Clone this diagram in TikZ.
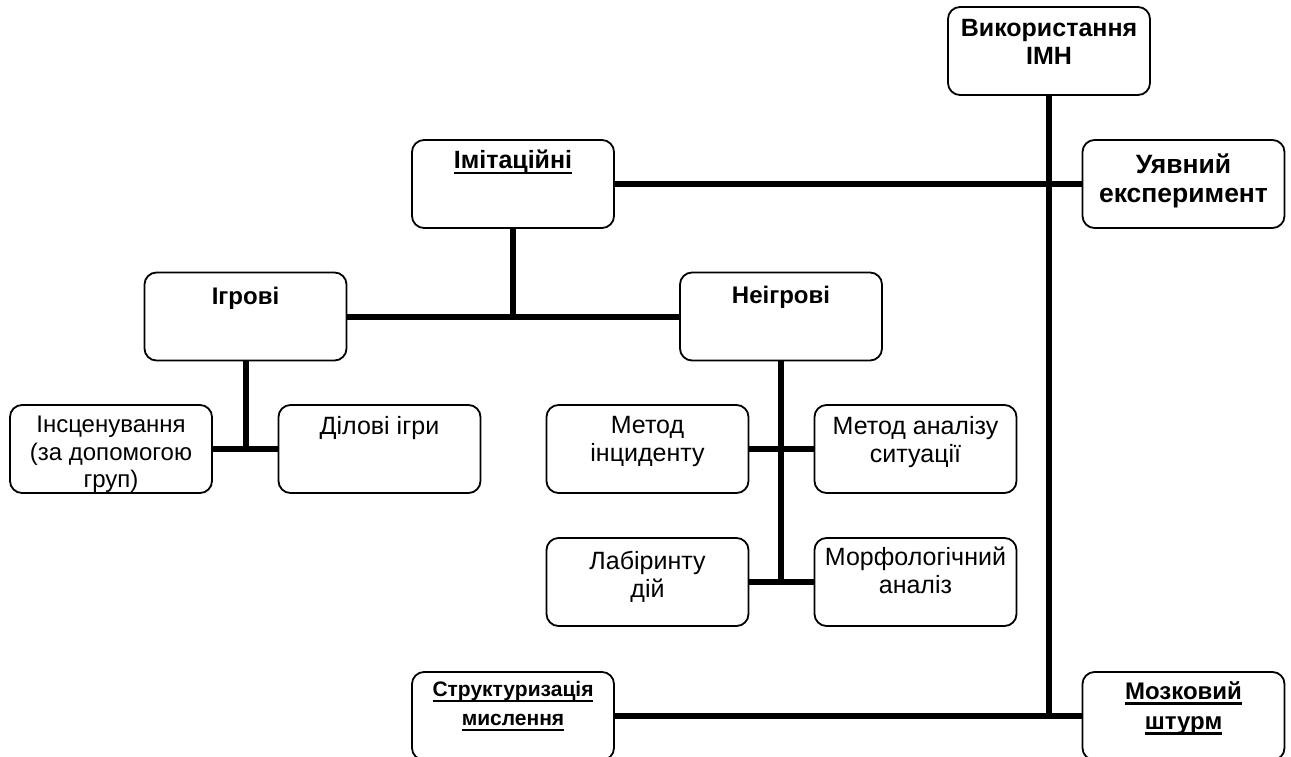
\documentclass[tikz,border=0pt]{standalone}
\usepackage{fontspec}
\setmainfont{Liberation Sans}
\usetikzlibrary{backgrounds}
\newcommand{\uln}[1]{\leavevmode\setbox0=\hbox{#1}\rlap{\vrule width\wd0 height -3.3pt depth 5.4pt}\box0}
\begin{document}
\begin{tikzpicture}[x=1pt,y=-1pt,
  box/.style={draw,line width=1.8pt,rounded corners=12pt,minimum width=202pt,minimum height=88pt,inner sep=0pt,fill=white},
  bt/.style={anchor=north,inner sep=0pt,align=center,font=\fontsize{24}{28}\selectfont\bfseries},
  rt/.style={anchor=north,inner sep=0pt,align=center,font=\fontsize{25}{28}\selectfont},
  conn/.style={line width=6pt,line cap=rect}]
\useasboundingbox (0,0) rectangle (1291,757);
\clip (0,0) rectangle (1291,757);
% boxes
\node[box] (vik) at (1049,51) {};
\node[box] (uyav) at (1183.5,184) {};
\node[box] (imit) at (513,184) {};
\node[box] (igr) at (245.5,316.5) {};
\node[box] (neigr) at (781,316.5) {};
\node[box] (insc) at (111,449) {};
\node[box] (dil) at (379.5,449) {};
\node[box] (metinc) at (647.5,449) {};
\node[box] (metan) at (915.5,449) {};
\node[box] (lab) at (647.5,582) {};
\node[box] (morf) at (915.5,582) {};
\node[box] (strukt) at (513,716) {};
\node[box] (mozk) at (1183.5,716) {};
% texts
\node[bt,font=\fontsize{25}{28}\selectfont\bfseries] (tvik) at ([yshift=-13pt]vik.north) {Використання\\ІМН};
\node[bt,font=\fontsize{26.5}{29}\selectfont\bfseries] (tuyav) at ([yshift=-14pt]uyav.north) {Уявний\\експеримент};
\node[bt,font=\fontsize{25}{28}\selectfont\bfseries] (timit) at ([yshift=-11pt]imit.north) {\uln{Імітаційні}};
\node[bt] (tigr) at ([yshift=-15pt]igr.north) {Ігрові};
\node[bt] (tneigr) at ([yshift=-14pt]neigr.north) {Неігрові};
\node[rt,font=\fontsize{24}{27.5}\selectfont] (tinsc) at ([yshift=-12pt]insc.north) {Інсценування\\(за допомогою\\груп)};
\node[rt] (tdil) at ([yshift=-12pt]dil.north) {Ділові ігри};
\node[rt] (tmetinc) at ([yshift=-12pt]metinc.north) {Метод\\інциденту};
\node[rt] (tmetan) at ([yshift=-12pt]metan.north) {Метод аналізу\\ситуації};
\node[rt] (tlab) at ([yshift=-14pt]lab.north) {Лабіринту\\дій};
\node[rt] (tmorf) at ([yshift=-10pt]morf.north) {Морфологічний\\аналіз};
\node[bt,font=\fontsize{21}{29}\selectfont\bfseries] (tstrukt) at ([yshift=-10pt]strukt.north) {\uln{Структуризація}\\\uln{мислення}};
\node[bt,font=\fontsize{24}{30}\selectfont\bfseries] (tmozk) at ([yshift=-10pt]mozk.north) {\uln{Мозковий}\\\uln{штурм}};
% connectors
\begin{pgfonlayer}{background}
\draw[conn] (vik.south) -- (vik.south |- mozk.west);
\draw[conn] (strukt.east) -- (mozk.west);
\draw[conn] (imit.east) -- (uyav.west);
\draw[conn] (imit.south) -- (imit.south |- igr.east);
\draw[conn] (igr.east) -- (neigr.west);
\draw[conn] (igr.south) -- (igr.south |- insc.east);
\draw[conn] (insc.east) -- (dil.west);
\draw[conn] (neigr.south) -- (neigr.south |- morf.west);
\draw[conn] (metinc.east) -- (metan.west);
\draw[conn] (lab.east) -- (morf.west);
\end{pgfonlayer}
\end{tikzpicture}
\end{document}
